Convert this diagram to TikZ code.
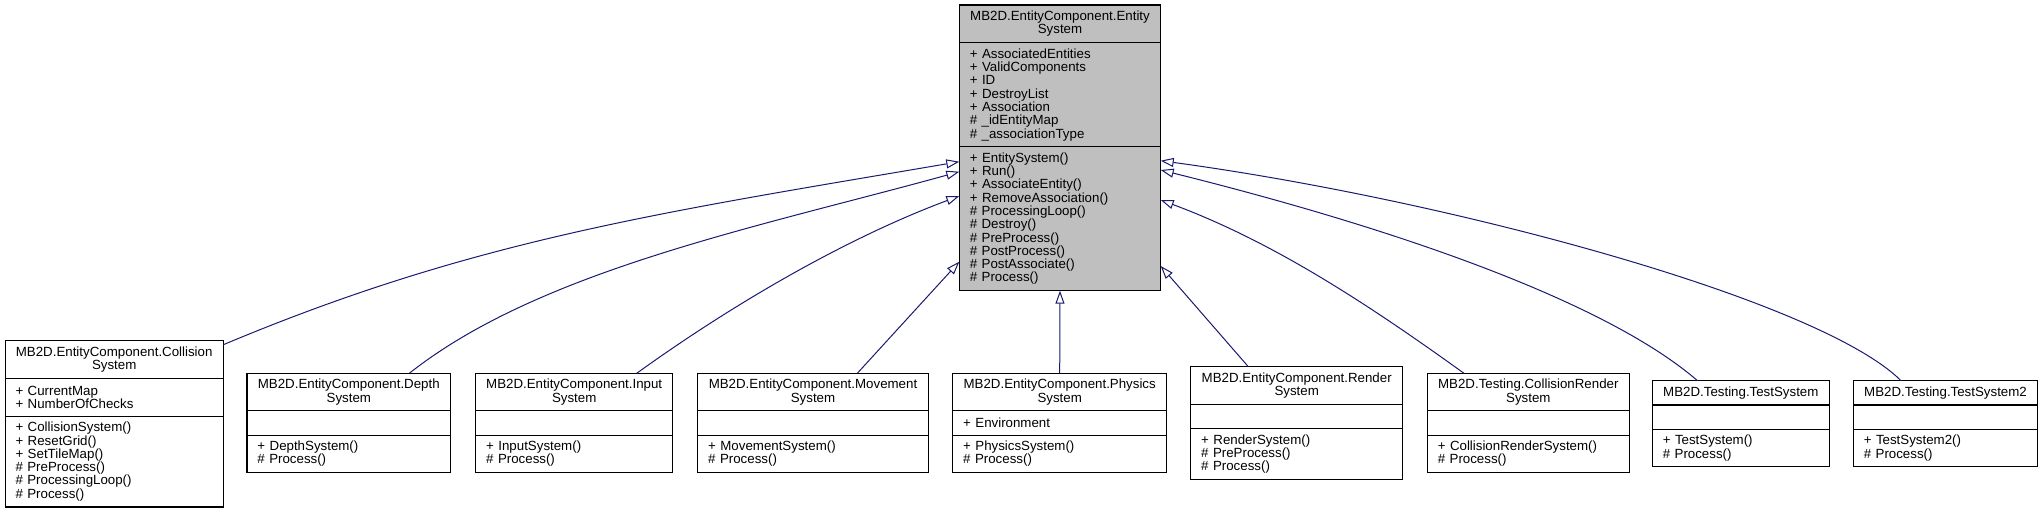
\documentclass[tikz,border=0pt]{standalone}
\usepackage{fontspec}
\setmainfont{Liberation Sans}
\usetikzlibrary{arrows.meta, positioning}
\definecolor{edgeblue}{RGB}{25, 25, 112}
\definecolor{parentgray}{RGB}{191, 191, 191}

\begin{document}
\begin{tikzpicture}[
        x=1pt, y=-1pt,
        font=\fontsize{13.3}{13.3}\selectfont,
        umlbox/.style={rectangle, draw=black, line width=1.1pt, outer sep=0pt, inner xsep=10.5pt, inner ysep=0pt},
        classhead/.style={umlbox, align=center},
        classbody/.style={umlbox, align=left},
        parent/.style={fill=parentgray},
        inherit/.style={draw=edgeblue, line width=1pt, -{Triangle[open, length=13pt, width=9pt, fill=white]}}
    ]
        \useasboundingbox (0,0) rectangle (2043,512);

        % base class
        \node[classhead, parent, minimum width=201.4pt, minimum height=37.7pt, anchor=north] (entity) at (1060,5) {MB2D.EntityComponent.Entity\\System};
        \node[classbody, parent, text width=180.4pt, minimum height=104pt, below=0pt of entity] (entity-a) {+ AssociatedEntities\\+ ValidComponents\\+ ID\\+ DestroyList\\+ Association\\\# \_idEntityMap\\\# \_associationType};
        \node[classbody, parent, text width=180.4pt, minimum height=144pt, below=0pt of entity-a] (entity-m) {+ EntitySystem()\\+ Run()\\+ AssociateEntity()\\+ RemoveAssociation()\\\# ProcessingLoop()\\\# Destroy()\\\# PreProcess()\\\# PostProcess()\\\# PostAssociate()\\\# Process()};

        % derived classes
        \node[classhead, minimum width=218.3pt, minimum height=37.5pt, anchor=north] (collision) at (114.2,340.7) {MB2D.EntityComponent.Collision\\System};
        \node[classbody, text width=197.3pt, minimum height=38pt, below=0pt of collision] (collision-a) {+ CurrentMap\\+ NumberOfChecks};
        \node[classbody, text width=197.3pt, minimum height=90.8pt, below=0pt of collision-a] (collision-m) {+ CollisionSystem()\\+ ResetGrid()\\+ SetTileMap()\\\# PreProcess()\\\# ProcessingLoop()\\\# Process()};

        \node[classhead, minimum width=203.7pt, minimum height=37.5pt, anchor=north] (depth) at (348.8,373.3) {MB2D.EntityComponent.Depth\\System};
        \node[classbody, text width=182.7pt, minimum height=24.3pt, below=0pt of depth] (depth-a) {};
        \node[classbody, text width=182.7pt, minimum height=37.5pt, below=0pt of depth-a] (depth-m) {+ DepthSystem()\\\# Process()};

        \node[classhead, minimum width=197pt, minimum height=37.5pt, anchor=north] (input) at (574.2,373.3) {MB2D.EntityComponent.Input\\System};
        \node[classbody, text width=176pt, minimum height=24.3pt, below=0pt of input] (input-a) {};
        \node[classbody, text width=176pt, minimum height=37.5pt, below=0pt of input-a] (input-m) {+ InputSystem()\\\# Process()};

        \node[classhead, minimum width=230.6pt, minimum height=37.5pt, anchor=north] (movement) at (813,373.3) {MB2D.EntityComponent.Movement\\System};
        \node[classbody, text width=209.6pt, minimum height=24.3pt, below=0pt of movement] (movement-a) {};
        \node[classbody, text width=209.6pt, minimum height=37.5pt, below=0pt of movement-a] (movement-m) {+ MovementSystem()\\\# Process()};

        \node[classhead, minimum width=214pt, minimum height=37.5pt, anchor=north] (physics) at (1059.7,373.3) {MB2D.EntityComponent.Physics\\System};
        \node[classbody, text width=193pt, minimum height=24.3pt, below=0pt of physics] (physics-a) {+ Environment};
        \node[classbody, text width=193pt, minimum height=37.5pt, below=0pt of physics-a] (physics-m) {+ PhysicsSystem()\\\# Process()};

        \node[classhead, minimum width=212pt, minimum height=37.5pt, anchor=north] (render) at (1296.7,366.7) {MB2D.EntityComponent.Render\\System};
        \node[classbody, text width=191pt, minimum height=24.3pt, below=0pt of render] (render-a) {};
        \node[classbody, text width=191pt, minimum height=50.9pt, below=0pt of render-a] (render-m) {+ RenderSystem()\\\# PreProcess()\\\# Process()};

        \node[classhead, minimum width=202pt, minimum height=37.5pt, anchor=north] (crender) at (1528.3,373.3) {MB2D.Testing.CollisionRender\\System};
        \node[classbody, text width=181pt, minimum height=24.3pt, below=0pt of crender] (crender-a) {};
        \node[classbody, text width=181pt, minimum height=37.5pt, below=0pt of crender-a] (crender-m) {+ CollisionRenderSystem()\\\# Process()};

        \node[classhead, minimum width=177pt, minimum height=24.3pt, anchor=north] (testsys) at (1740.8,380.7) {MB2D.Testing.TestSystem};
        \node[classbody, text width=156pt, minimum height=24.3pt, below=0pt of testsys] (testsys-a) {};
        \node[classbody, text width=156pt, minimum height=37.5pt, below=0pt of testsys-a] (testsys-m) {+ TestSystem()\\\# Process()};

        \node[classhead, minimum width=184.4pt, minimum height=24.3pt, anchor=north] (testsys2) at (1945.5,380.7) {MB2D.Testing.TestSystem2};
        \node[classbody, text width=163.4pt, minimum height=24.3pt, below=0pt of testsys2] (testsys2-a) {};
        \node[classbody, text width=163.4pt, minimum height=37.5pt, below=0pt of testsys2-a] (testsys2-m) {+ TestSystem2()\\\# Process()};

        % inheritance
        \draw[inherit] ([yshift=-4pt]collision.north east) .. controls +(250,-105) and +(-300,51) .. ([yshift=-15pt]entity-m.north west);
        \draw[inherit] ([xshift=60.5pt]depth.north) .. controls +(130.7,-103.3) and +(-200.3,55.3) .. ([yshift=-25pt]entity-m.north west);
        \draw[inherit] ([xshift=62.5pt]input.north) .. controls +(100,-72) and +(-110,41) .. ([yshift=-49.3pt]entity-m.north west);
        \draw[inherit] ([xshift=44.3pt]movement.north) -- ([yshift=-115pt]entity-m.north west);
        \draw[inherit] (physics.north) -- (entity-m.south);
        \draw[inherit] ([xshift=-48.4pt]render.north) -- ([yshift=-119.3pt]entity-m.north east);
        \draw[inherit] ([xshift=-64.3pt]crender.north) .. controls +(-100,-72) and +(110.3,41) .. ([yshift=-53.3pt]entity-m.north east);
        \draw[inherit] ([xshift=-43.3pt]testsys.north) .. controls +(-87.5,-75.7) and +(249.3,62) .. ([yshift=-23.3pt]entity-m.north east);
        \draw[inherit] ([xshift=-44.5pt]testsys2.north) .. controls +(-81,-80.7) and +(289.3,39.3) .. ([yshift=-14pt]entity-m.north east);
    \end{tikzpicture}
\end{document}
